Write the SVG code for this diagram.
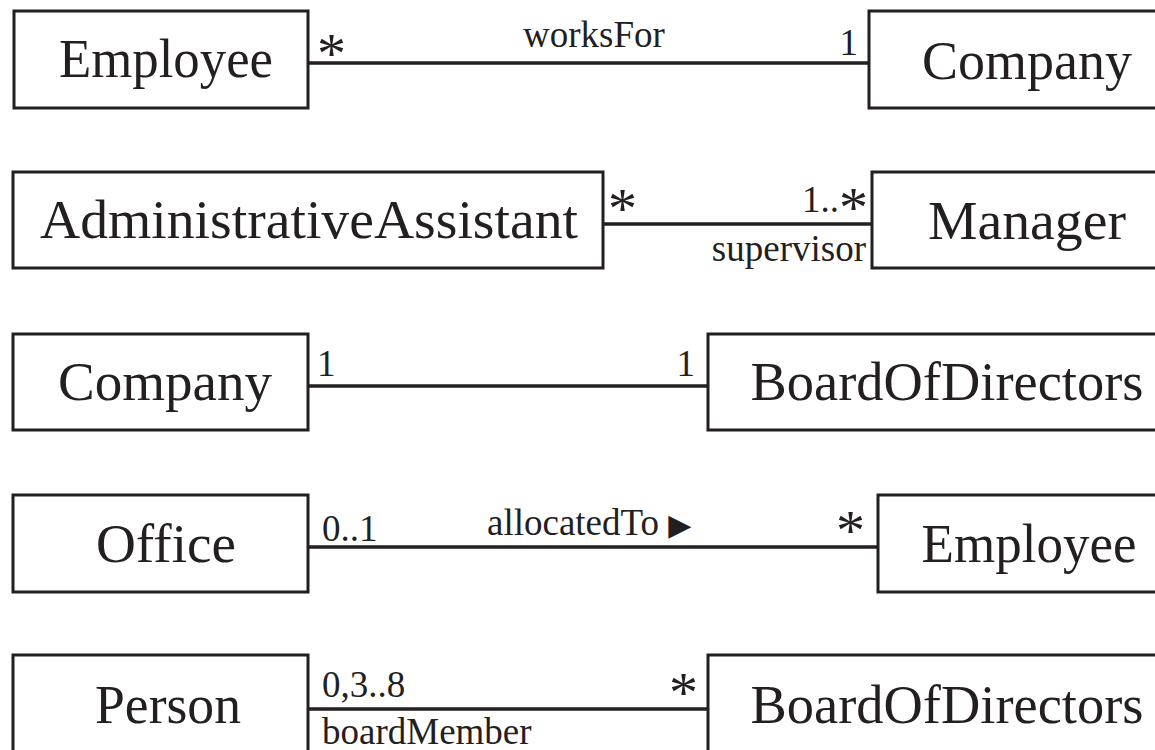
<svg xmlns="http://www.w3.org/2000/svg" width="1155" height="750" viewBox="0 0 1155 750">
<style>
.box{fill:#fff;stroke:#231f20;stroke-width:3}
.cn{font-family:"Liberation Serif",serif;font-size:55px;fill:#231f20;text-anchor:middle}
.lb{font-family:"Liberation Serif",serif;font-size:37px;fill:#231f20}
.st{font-family:"Liberation Serif",serif;font-size:58px;fill:#231f20}
.ln{stroke:#231f20;stroke-width:3.5;fill:none}
</style>
<rect width="1155" height="750" fill="#fff"/>
<g id="connectors">
<line class="ln" x1="308" y1="63" x2="869" y2="63"/>
<line class="ln" x1="603" y1="224" x2="872" y2="224"/>
<line class="ln" x1="308" y1="386" x2="708" y2="386"/>
<line class="ln" x1="308" y1="547" x2="878" y2="547"/>
<line class="ln" x1="308" y1="709" x2="708" y2="709"/>
<text class="st" x="317" y="73">*</text>
<text class="lb" x="594" y="47" text-anchor="middle">worksFor</text>
<text class="lb" x="858" y="55" text-anchor="end">1</text>
<text class="st" x="608" y="228">*</text>
<text class="lb" x="868" y="212" text-anchor="end">1..<tspan class="st" dy="15">*</tspan></text>
<text class="lb" x="866" y="261" text-anchor="end">supervisor</text>
<text class="lb" x="317" y="376">1</text>
<text class="lb" x="695" y="376" text-anchor="end">1</text>
<text class="lb" x="322" y="541">0..1</text>
<text class="lb" x="487" y="535">allocatedTo <tspan font-family="DejaVu Sans" font-size="30px">▶</tspan></text>
<text class="st" x="836" y="550">*</text>
<text class="lb" x="322" y="697">0,3..8</text>
<text class="lb" x="322" y="744">boardMember</text>
<text class="st" x="669" y="712">*</text>
</g>
<g id="employee1"><rect class="box" x="14" y="11" width="294" height="97"/><text class="cn" x="166" y="77" textLength="214" lengthAdjust="spacingAndGlyphs">Employee</text></g>
<g id="company1"><rect class="box" x="869" y="11" width="300" height="97"/><text class="cn" x="1027" y="79" textLength="210" lengthAdjust="spacingAndGlyphs">Company</text></g>
<g id="adminAssistant"><rect class="box" x="13" y="172" width="590" height="96"/><text class="cn" x="309" y="238" textLength="538" lengthAdjust="spacingAndGlyphs">AdministrativeAssistant</text></g>
<g id="manager"><rect class="box" x="872" y="172" width="300" height="96"/><text class="cn" x="1027" y="239" textLength="198" lengthAdjust="spacingAndGlyphs">Manager</text></g>
<g id="company2"><rect class="box" x="13" y="334" width="295" height="96"/><text class="cn" x="165" y="400" textLength="214" lengthAdjust="spacingAndGlyphs">Company</text></g>
<g id="board1"><rect class="box" x="708" y="334" width="460" height="96"/><text class="cn" x="947" y="400" textLength="393" lengthAdjust="spacingAndGlyphs">BoardOfDirectors</text></g>
<g id="office"><rect class="box" x="13" y="495" width="295" height="97"/><text class="cn" x="166" y="562" textLength="140" lengthAdjust="spacingAndGlyphs">Office</text></g>
<g id="employee2"><rect class="box" x="878" y="495" width="300" height="97"/><text class="cn" x="1029" y="562" textLength="215" lengthAdjust="spacingAndGlyphs">Employee</text></g>
<g id="person"><rect class="box" x="13" y="655" width="295" height="110"/><text class="cn" x="168" y="723" textLength="146" lengthAdjust="spacingAndGlyphs">Person</text></g>
<g id="board2"><rect class="box" x="708" y="655" width="460" height="110"/><text class="cn" x="947" y="723" textLength="393" lengthAdjust="spacingAndGlyphs">BoardOfDirectors</text></g>
</svg>
